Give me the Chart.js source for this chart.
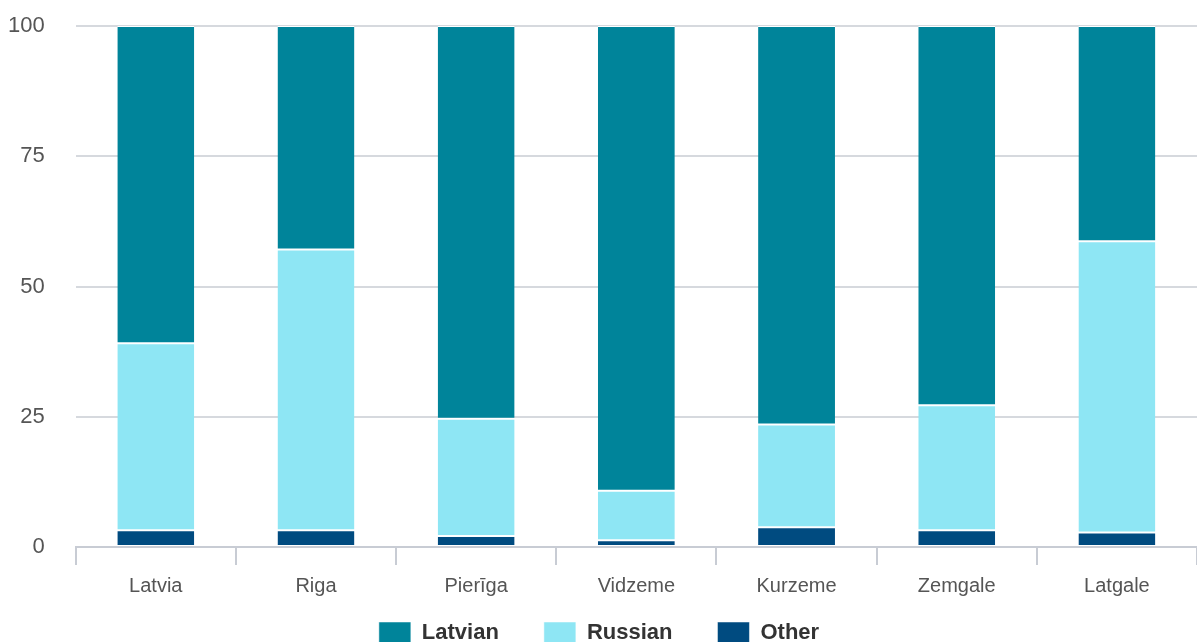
<!DOCTYPE html>
<html>
<head>
<meta charset="utf-8">
<script src="https://cdn.jsdelivr.net/npm/chart.js@4"></script>
<style>
  html, body { margin: 0; padding: 0; background: #fff; overflow: hidden; }
  #wrap { width: 1197px; height: 684px; position: relative; }
</style>
</head>
<body>
<div id="wrap"><canvas id="chart"></canvas></div>
<script>
// regions and language shares (%)
var regions = ['Latvia', 'Riga', 'Pierīga', 'Vidzeme', 'Kurzeme', 'Zemgale', 'Latgale'];
var latvian = [60.9, 42.9, 75.4, 89.2, 76.5, 72.8, 41.3];
var russian = [35.9, 53.9, 22.5, 9.5, 19.7, 24.0, 55.9];
var other = [3.2, 3.2, 2.1, 1.3, 3.8, 3.2, 2.8];
var yTicks = [0, 25, 50, 75, 100];

var fontFamily = 'Liberation Sans, Arial, sans-serif';

// pull the legend up closer to the axis labels, nudge it right a bit
var legendShift = {
    id: 'legendShift',
    afterLayout: function (chart) {
        var lg = chart.legend;
        if (!lg) return;
        lg.top -= 30;
        lg.bottom -= 30;
        lg.left += 12;
        lg.right += 12;
    }
};

var ctx = document.getElementById('chart');
new Chart(ctx, {
    type: 'bar',
    data: {
        labels: regions,
        datasets: [
            { label: 'Other', data: other, backgroundColor: '#004b80' },
            { label: 'Russian', data: russian, backgroundColor: '#8ee6f4' },
            { label: 'Latvian', data: latvian, backgroundColor: '#00849a' }
        ]
    },
    options: {
        responsive: true,
        maintainAspectRatio: false,
        animation: false,
        datasets: {
            bar: {
                categoryPercentage: 0.8,
                barPercentage: 0.6,
                borderColor: '#ffffff',
                borderWidth: { top: 1, bottom: 1, left: 0, right: 0 },
                borderSkipped: false
            }
        },
        layout: { padding: { top: 0, right: 0, left: -23, bottom: 0 } },
        scales: {
            x: {
                stacked: true,
                offset: true,
                grid: {
                    offset: true,
                    drawOnChartArea: false,
                    tickLength: 18,
                    color: '#c8ccd4',
                    lineWidth: 2
                },
                border: { color: '#c8ccd4', width: 2 },
                ticks: {
                    color: '#555',
                    padding: 9,
                    font: { family: fontFamily, size: 20 }
                }
            },
            y: {
                stacked: true,
                min: 0,
                max: 100,
                afterBuildTicks: function (axis) {
                    axis.ticks = yTicks.map(function (v) { return { value: v }; });
                },
                afterFit: function (axis) {
                    axis.paddingTop = 26;
                },
                grid: { color: '#d6d9de', lineWidth: 2, drawTicks: false },
                border: { display: false },
                ticks: {
                    color: '#555',
                    padding: 31,
                    font: { family: fontFamily, size: 22 }
                }
            }
        },
        plugins: {
            legend: {
                position: 'bottom',
                reverse: true,
                labels: {
                    boxWidth: 32,
                    boxHeight: 22,
                    padding: 45,
                    color: '#333',
                    font: { family: fontFamily, size: 22, weight: 'bold' }
                }
            },
            tooltip: { enabled: false }
        }
    },
    plugins: [legendShift]
});
</script>
</body>
</html>
